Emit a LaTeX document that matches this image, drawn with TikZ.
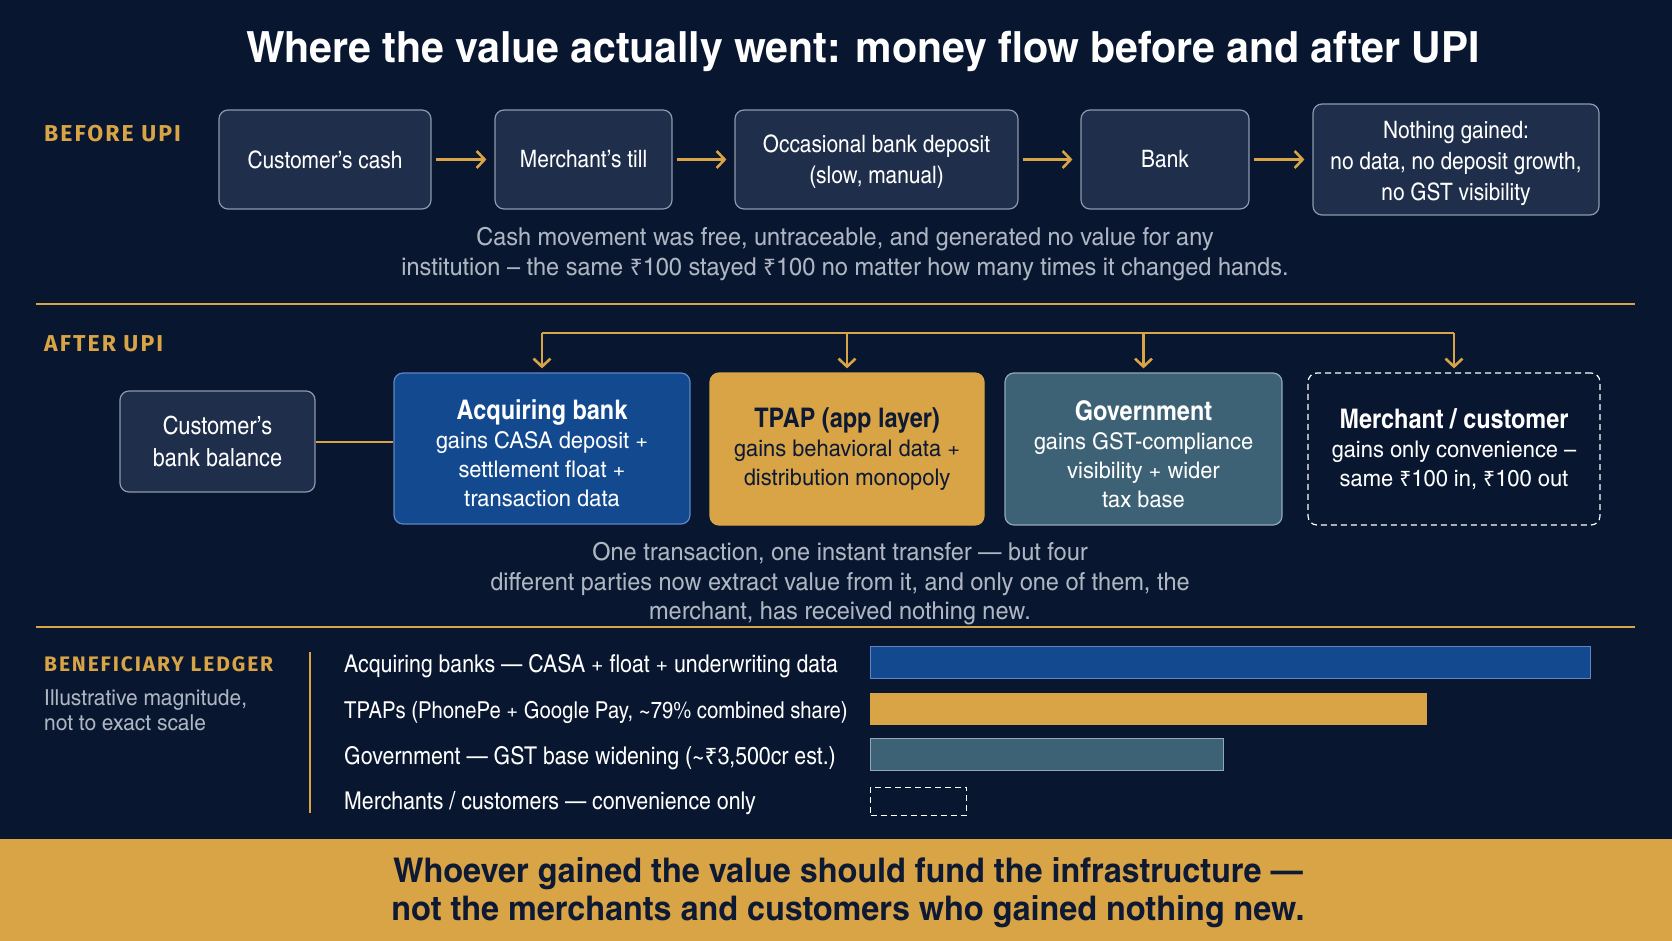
\documentclass[tikz,border=0pt]{standalone}
\usepackage{fontspec}
\setmainfont{texgyreheroscn}[Extension=.otf,UprightFont=*-regular,BoldFont=*-bold,FakeStretch=1.06]
\newfontfamily\widefont{texgyreheroscn}[Extension=.otf,UprightFont=*-regular,BoldFont=*-bold,FakeStretch=1.16]
\newfontfamily\capsfont{Fira Sans}[LetterSpace=9]
\newfontfamily\rupfont{Noto Sans}[Scale=0.92]
\newcommand{\rs}{{\rupfont ₹}}
\newcommand{\headfont}{\normalfont\bfseries\fontsize{27}{34}\selectfont}
\newcommand{\lift}[1]{\rule{0pt}{#1}}
\usepackage{xcolor}
\usepackage{tikz}
\usetikzlibrary{arrows.meta,positioning}
\definecolor{bgc}{HTML}{081630}
\definecolor{boxfl}{HTML}{1F2F4B}
\definecolor{boxln}{HTML}{8E98AA}
\definecolor{goldc}{HTML}{D8A446}
\definecolor{acqfl}{HTML}{134A8F}
\definecolor{acqln}{HTML}{5D86C2}
\definecolor{govfl}{HTML}{3E6275}
\definecolor{govln}{HTML}{93A8B6}
\definecolor{grayt}{HTML}{AEB6C2}
\definecolor{navyt}{HTML}{0E1A33}
\tikzset{
  box/.style={draw=boxln, fill=boxfl, rounded corners=9pt, line width=1.2pt, align=center, inner sep=0pt, text=white, font=\fontsize{24}{31}\selectfont},
  box_b/.style={box, fill=acqfl, draw=acqln, font=\widefont\fontsize{23}{29}\selectfont},
  box_y/.style={box, fill=goldc, draw=goldc, text=navyt, font=\widefont\fontsize{23}{29}\selectfont},
  box_g/.style={box, fill=govfl, draw=govln, font=\widefont\fontsize{23}{29}\selectfont},
  box_m/.style={box, fill=bgc, draw=white, dashed, dash pattern=on 6pt off 4pt, font=\widefont\fontsize{23}{29}\selectfont},
  flow/.style={draw=goldc, line width=2.6pt, -{Straight Barb[length=8pt,width=17pt]}},
  note/.style={text=grayt, align=center, font=\widefont\fontsize{24.7}{29.5}\selectfont},
  tag/.style={text=goldc, anchor=west, inner sep=0pt, font=\capsfont\bfseries\fontsize{23}{26}\selectfont},
  row/.style={text=white, anchor=west, inner sep=0pt, font=\fontsize{24.5}{28}\selectfont},
  bar/.style={anchor=west, inner sep=0pt, line width=1pt}
}
\begin{document}
\begin{tikzpicture}[x=1pt,y=-1pt]
\fill[bgc] (0,0) rectangle (1672,941);
\useasboundingbox (0,0) rectangle (1672,941);
\node[text=white, font=\widefont\bfseries\fontsize{43}{50}\selectfont] (title) at (863,51) {Where the value actually went: money flow before and after UPI};

% before
\node[tag] (before) at (44,134) {BEFORE UPI};
\node[box, minimum width=212pt, minimum height=99pt] (cash) at (325,159.5) {Customer’s cash};
\node[box, minimum width=177pt, minimum height=99pt] (till) at (583.5,159.5) {Merchant’s till};
\node[box, minimum width=283pt, minimum height=99pt] (dep) at (876.5,159.5) {\lift{22pt}Occasional bank deposit\\(slow, manual)};
\node[box, minimum width=168pt, minimum height=99pt] (bank) at (1165,159.5) {Bank};
\node[box, minimum width=286pt, minimum height=111pt] (none) at (1456,159.5) {\lift{26pt}Nothing gained:\\no data, no deposit growth,\\no GST visibility};
\draw[flow, shorten <=4pt, shorten >=8pt] (cash) -- (till);
\draw[flow, shorten <=4pt, shorten >=8pt] (till) -- (dep);
\draw[flow, shorten <=4pt, shorten >=8pt] (dep) -- (bank);
\draw[flow, shorten <=4pt, shorten >=8pt] (bank) -- (none);
\node[note] (note_a) at (845,254) {Cash movement was free, untraceable, and generated no value for any\\institution – the same \rs100 stayed \rs100 no matter how many times it changed hands.};
\draw[goldc, line width=1.2pt] (36,304) -- (1635,304);

% after
\node[tag] (after) at (44,344) {AFTER UPI};
\node[box, minimum width=195pt, minimum height=101pt, font=\fontsize{25}{32}\selectfont] (bal) at (217.5,441.5) {Customer’s\\bank balance};
\node[box_b, minimum width=296pt, minimum height=151pt] (acq) at (542,448.5) {{\headfont\lift{30pt}Acquiring bank}\\gains CASA deposit +\\settlement float +\\transaction data};
\node[box_y, minimum width=274pt, minimum height=152pt] (tpap) at (847,449) {{\headfont TPAP (app layer)}\\gains behavioral data +\\distribution monopoly};
\node[box_g, minimum width=277pt, minimum height=152pt] (gov) at (1143.5,449) {{\headfont\lift{30pt}Government}\\gains GST-compliance\\visibility + wider\\tax base};
\node[box_m, minimum width=292pt, minimum height=152pt] (mer) at (1454,449) {{\headfont Merchant / customer}\\gains only convenience –\\same \rs100 in, \rs100 out};
\draw[goldc, line width=2.6pt] (bal.east |- 0,442) -- (acq.west |- 0,442);
\coordinate (bus_l) at (542,333);
\coordinate (bus_r) at (1454,333);
\draw[goldc, line width=2.6pt] (bus_l) -- (bus_r);
\draw[flow, shorten >=4pt] (bus_l) -- (acq.north);
\draw[flow, shorten >=4pt] (tpap.north |- bus_l) -- (tpap.north);
\draw[flow, shorten >=4pt] (gov.north |- bus_l) -- (gov.north);
\draw[flow, shorten >=4pt] (bus_r) -- (mer.north);
\node[note] (note_b) at (840,584) {One transaction, one instant transfer — but four\\different parties now extract value from it, and only one of them, the\\merchant, has received nothing new.};
\draw[goldc, line width=1.2pt] (36,627) -- (1635,627);

% ledger
\node[tag, font=\capsfont\bfseries\fontsize{21}{24}\selectfont] (ledger) at (44,664) {BENEFICIARY LEDGER};
\node[text=grayt, anchor=north west, inner sep=0pt, align=left, font=\widefont\fontsize{22}{25.5}\selectfont] (ledger_sub) at (44,689) {Illustrative magnitude,\\not to exact scale};
\draw[goldc, line width=1.2pt] (310,652) -- (310,813);
\node[row] (row_acq) at (344,666) {Acquiring banks — CASA + float + underwriting data};
\node[row, font=\fontsize{23.3}{28}\selectfont] (row_tpap) at (344,712) {TPAPs (PhonePe + Google Pay, \textasciitilde79\% combined share)};
\node[row] (row_gov) at (344,758) {Government — GST base widening (\textasciitilde\rs3,500cr est.)};
\node[row] (row_mer) at (344,803) {Merchants / customers — convenience only};
\node[bar, fill=acqfl, draw=acqln, minimum width=720pt, minimum height=32pt] (bar_acq) at (870,662) {};
\node[bar, fill=goldc, draw=goldc, minimum width=556pt, minimum height=31pt] (bar_tpap) at (870,708.5) {};
\node[bar, fill=govfl, draw=govln, minimum width=353pt, minimum height=32pt] (bar_gov) at (870,754) {};
\node[bar, draw=white, dash pattern=on 6pt off 4pt, minimum width=96pt, minimum height=28pt] (bar_mer) at (870,801) {};

% banner
\fill[goldc] (0,839) rectangle (1672,941);
\node[text=navyt, align=center, font=\widefont\bfseries\fontsize{34}{38}\selectfont] (banner) at (848,893) {Whoever gained the value should fund the infrastructure —\\not the merchants and customers who gained nothing new.};
\end{tikzpicture}
\end{document}
